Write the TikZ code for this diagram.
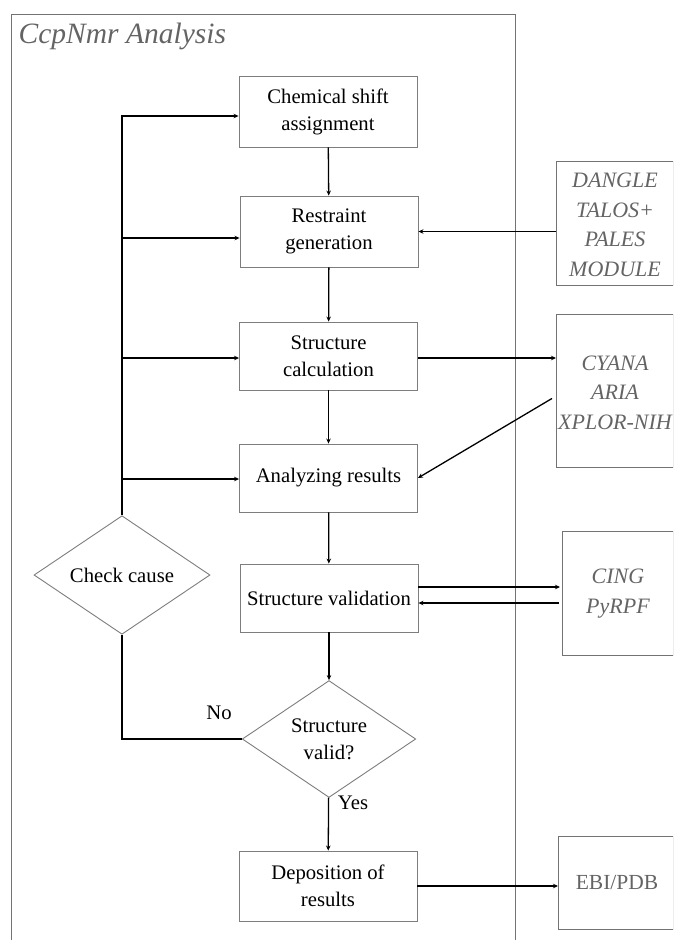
\documentclass[tikz,border=0pt]{standalone}
\usepackage{fontspec}
\setmainfont{Liberation Serif}
\usetikzlibrary{shapes.geometric,arrows.meta}
\definecolor{framegray}{RGB}{115,115,115}
\definecolor{boxgray}{RGB}{125,125,125}
\definecolor{txtgray}{RGB}{100,100,100}
\begin{document}
\begin{tikzpicture}[x=1pt,y=-1pt,
  mainbox/.style={draw=boxgray, line width=0.9pt, minimum width=178pt, align=center, inner sep=2pt, font=\fontsize{20.7}{27}\selectfont},
  dia/.style={draw=boxgray, line width=0.9pt, diamond, inner sep=0pt, align=center, font=\fontsize{20.7}{27}\selectfont},
  toolbox/.style={draw=framegray, line width=0.9pt, anchor=north west, inner sep=0pt},
  tooltext/.style={text=txtgray, align=center, inner sep=0pt, font=\fontsize{22}{29.5}\selectfont\itshape},
  arr/.style={line width=1.3pt, -{Stealth[length=5pt,width=4.5pt]}},
  ln/.style={line width=1.3pt},
  lbl/.style={inner sep=0pt, font=\fontsize{20.7}{27}\selectfont}
]
\useasboundingbox (0,0) rectangle (673,940);
\clip (0,0) rectangle (673,940);

% outer frame
\draw[framegray, line width=0.9pt] (11.5,960) -- (11.5,14) -- (515,14) -- (515,960);
\node[anchor=base west, text=txtgray, inner sep=0pt, font=\fontsize{29.5}{32}\selectfont\itshape] (title) at (18.5,43) {CcpNmr Analysis};

% main column
\node[mainbox, minimum height=71pt] (cs)  at (328,111.5) {Chemical shift\\assignment};
\node[mainbox, minimum height=71pt] (rg)  at (329,231.5) {Restraint\\generation};
\node[mainbox, minimum height=68pt] (sc)  at (328.5,356) {Structure\\calculation};
\node[mainbox, minimum height=68pt] (ar)  at (328.5,478) {Analyzing results};
\node[mainbox, minimum height=68pt] (val) at (329,598) {Structure validation};
\node[dia, minimum width=173.5pt, minimum height=86pt] (valid) at (329,739) {Structure\\valid?};
\node[mainbox, minimum height=70pt] (dep) at (328,886) {Deposition of\\results};
\node[dia, minimum width=176pt, minimum height=88pt] (check) at (122,575) {Check cause};

% tool boxes
\node[toolbox, minimum width=116.5pt, minimum height=124pt] (dbox) at (556,161) {};
\node[tooltext] (dtext) at (615,225) {DANGLE\\TALOS+\\PALES\\MODULE};
\node[toolbox, minimum width=116.5pt, minimum height=153pt] (cbox) at (556,314) {};
\node[tooltext] (ctext) at (615,392.5) {CYANA\\ARIA\\XPLOR-NIH};
\node[toolbox, minimum width=110.5pt, minimum height=124pt] (ibox) at (562,531) {};
\node[tooltext] (itext) at (618,593.5) {CING\\PyRPF};
\node[toolbox, minimum width=114.5pt, minimum height=93pt] (ebox) at (558,836) {};
\node[tooltext, font=\fontsize{21.5}{27}\selectfont] (etext) at (617,883) {EBI/PDB};

% main flow
\draw[arr] (cs) -- (rg);
\draw[arr] (rg) -- (sc);
\draw[arr] (sc) -- (ar);
\draw[arr] (ar) -- (val);
\draw[arr] (val) -- (valid);
\draw[arr] (valid) -- (dep);

% feedback loop
\coordinate (l1) at ([yshift=-4.5pt]cs.west);
\coordinate (l2) at ([yshift=-6.5pt]rg.west);
\coordinate (l3) at ([yshift=-2pt]sc.west);
\coordinate (l4) at ([yshift=-1pt]ar.west);
\draw[arr] (check.north) |- (l1);
\draw[arr] (l2 -| check.north) -- (l2);
\draw[arr] (l3 -| check.north) -- (l3);
\draw[arr] (l4 -| check.north) -- (l4);
\draw[ln] (valid.west) -| (check.south);
\node[lbl] (no) at (219,713) {No};
\node[lbl] (yes) at (353,803) {Yes};

% tools
\draw[arr] (dbox.west |- rg.east) -- (rg.east);
\coordinate (c1) at ([yshift=-2pt]sc.east);
\draw[arr] (c1) -- (c1 -| cbox.west);
\draw[arr] ([xshift=-4pt,yshift=-7.5pt]cbox.west) -- (ar.east);
\coordinate (v1) at ([yshift=11pt]val.east);
\coordinate (v2) at ([yshift=-5pt]val.east);
\draw[arr] (v1) -- ([xshift=-2pt]v1 -| ibox.west);
\draw[arr] ([xshift=-3pt]v2 -| ibox.west) -- (v2);
\draw[arr] (dep.east) -- (dep.east -| ebox.west);
\end{tikzpicture}
\end{document}
